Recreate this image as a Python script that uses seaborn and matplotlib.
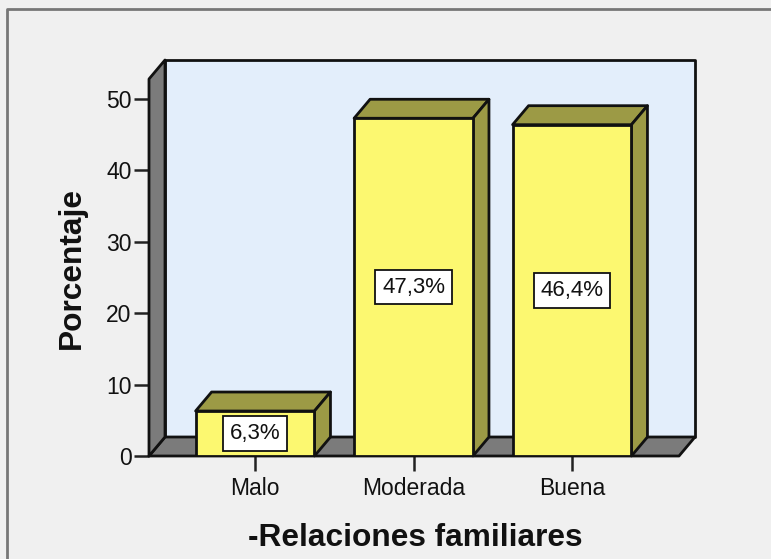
import matplotlib
matplotlib.use('Agg')
import matplotlib.pyplot as plt
from matplotlib.lines import Line2D
from matplotlib.patches import Polygon
import seaborn as sns

categories = ['Malo', 'Moderada', 'Buena']
porcentajes = [6.3, 47.3, 46.4]
etiquetas = ['6,3%', '47,3%', '46,4%']
y_ticks = [0, 10, 20, 30, 40, 50]

sns.set_style('white')
plt.rcParams['font.family'] = ['Liberation Sans', 'DejaVu Sans']

W, H = 771, 559
FONDO = '#f0f0f0'
NEGRO = '#111111'
GRIS = '#7b7b7b'
OLIVA = '#9c9a45'
AMARILLO = '#fcf870'
AZUL = '#e3eefb'

fig = plt.figure(figsize=(W / 100, H / 100), dpi=100, facecolor=FONDO)
# axes box is the front plane of the fake 3d box
ax = fig.add_axes([149 / W, 1 - 456 / H, 530 / W, 377 / H])
ax.patch.set_visible(False)

sns.barplot(x=categories, y=porcentajes, color=AMARILLO, saturation=1, width=0.75,
            edgecolor=NEGRO, linewidth=2.0, ax=ax, zorder=3)

ax.set_xlim(-0.669, 2.675)
ax.set_ylim(0, 52.8)
x0, x1 = ax.get_xlim()
y0, y1 = ax.get_ylim()

# depth of the 3d effect in data units
dx = 16 / 158.5
dy = 19 / 7.14


def poly(pts, color, z):
    ax.add_patch(Polygon(pts, closed=True, facecolor=color, edgecolor=NEGRO, linewidth=2.0,
                         joinstyle='round', clip_on=False, zorder=z))


poly([(x0 + dx, y0 + dy), (x1 + dx, y0 + dy), (x1 + dx, y1 + dy), (x0 + dx, y1 + dy)], AZUL, 1)
poly([(x0, y0), (x1, y0), (x1 + dx, y0 + dy), (x0 + dx, y0 + dy)], GRIS, 1.5)
poly([(x0, y0), (x0 + dx, y0 + dy), (x0 + dx, y1 + dy), (x0, y1)], GRIS, 1.5)

for bar, lab in zip(ax.patches[:3], etiquetas):
    bx, bw, bh = bar.get_x(), bar.get_width(), bar.get_height()
    poly([(bx, bh), (bx + bw, bh), (bx + bw + dx, bh + dy), (bx + dx, bh + dy)], OLIVA, 2.5)
    poly([(bx + bw, 0), (bx + bw + dx, dy), (bx + bw + dx, bh + dy), (bx + bw, bh)], OLIVA, 2.5)
    ax.text(bx + bw / 2, bh / 2, lab, ha='center', va='center', fontsize=16, color=NEGRO, zorder=5,
            bbox=dict(boxstyle='square,pad=0.3', facecolor='white', edgecolor=NEGRO, linewidth=1.3))

sns.despine(ax=ax, left=True, bottom=True)
ax.set_yticks(y_ticks)
ax.tick_params(axis='both', which='both', length=10.5, width=1.8, color='#222222', labelcolor=NEGRO,
               labelsize=16.5, left=True, bottom=True, pad=2)
ax.tick_params(axis='x', pad=4.5)
ax.set_xlabel('-Relaciones familiares', fontsize=22.8, fontweight='bold', color=NEGRO)
ax.set_ylabel('Porcentaje', fontsize=22.8, fontweight='bold', color=NEGRO)
ax.yaxis.set_label_coords(-62 / 530, (456 - 268) / 377)
ax.xaxis.set_label_coords((415 - 149) / 530, -67 / 377)

# outer frame, only top and left show in the crop
fig.add_artist(Line2D([7 / W, 7 / W, 1], [0, 1 - 9 / H, 1 - 9 / H], color='#777777', linewidth=2.0))

fig.savefig('out.png', dpi=100, facecolor=FONDO)
